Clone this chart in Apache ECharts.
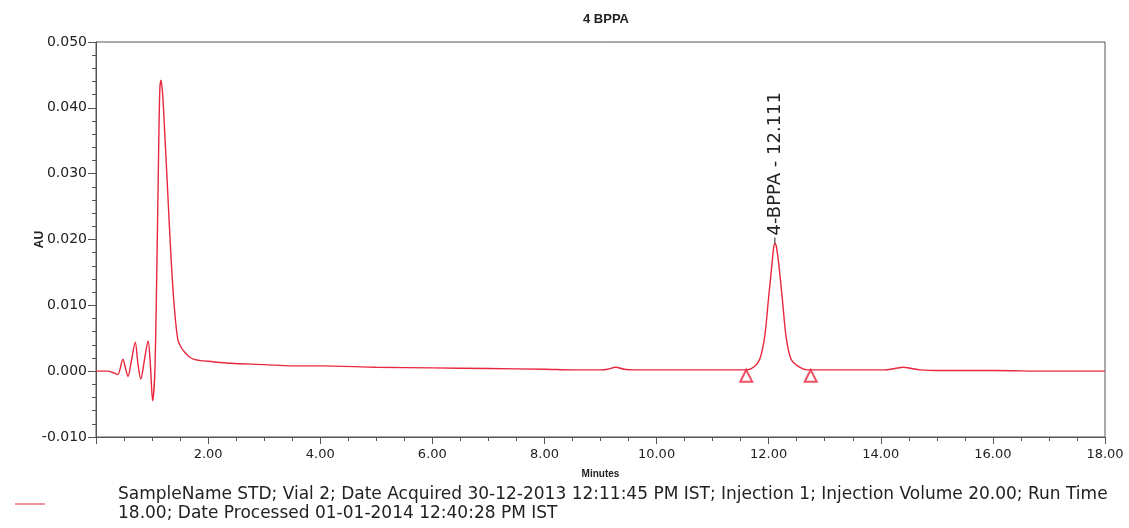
<!DOCTYPE html>
<html>
<head>
<meta charset="utf-8">
<script src="https://cdn.jsdelivr.net/npm/echarts@6/dist/echarts.min.js"></script>
<style>
html,body{margin:0;padding:0;background:#fff;}
#chart{width:1129px;height:528px;}
</style>
</head>
<body>
<div id="chart"></div>
<script>
// ---- data ----
const chartTitle = '4 BPPA';
const seriesName = 'SampleName STD; Vial 2; Date Acquired 30-12-2013 12:11:45 PM IST; Injection 1; Injection Volume 20.00; Run Time 18.00; Date Processed 01-01-2014 12:40:28 PM IST';
const legendLine1 = 'SampleName STD; Vial 2; Date Acquired 30-12-2013 12:11:45 PM IST; Injection 1; Injection Volume 20.00; Run Time';
const legendLine2 = '18.00; Date Processed 01-01-2014 12:40:28 PM IST';
const timeMin = [0, 0.2, 0.33, 0.39, 0.48, 0.53, 0.57, 0.63, 0.70, 0.75, 0.80, 0.86, 0.93, 0.97, 1.01, 1.05, 1.09, 1.12, 1.14, 1.16, 1.19, 1.22, 1.28, 1.34, 1.40, 1.46, 1.52, 1.58, 1.66, 1.75, 1.87, 2.0, 2.4, 3.0, 3.5, 4.0, 5.0, 6.0, 7.0, 8.0, 8.5, 9.0, 9.13, 9.27, 9.42, 9.6, 10.0, 11.0, 11.61, 11.73, 11.84, 11.93, 11.99, 12.05, 12.09, 12.111, 12.14, 12.19, 12.25, 12.31, 12.40, 12.55, 12.70, 13.0, 13.5, 14.06, 14.25, 14.40, 14.55, 14.70, 15.0, 16.0, 17.0, 18.0];
const absorbance = [0.0000, 0.0000, -0.0003, -0.0005, 0.0018, 0.0003, -0.0008, 0.0015, 0.0044, 0.0010, -0.0012, 0.0015, 0.0046, 0.0010, -0.0045, 0.0000, 0.0180, 0.0350, 0.0430, 0.0442, 0.0420, 0.0372, 0.0271, 0.0170, 0.0094, 0.0048, 0.0036, 0.0029, 0.0022, 0.0018, 0.0016, 0.0015, 0.0012, 0.0010, 0.0008, 0.0008, 0.0006, 0.0005, 0.0004, 0.0003, 0.0002, 0.0002, 0.0003, 0.0006, 0.0003, 0.0002, 0.0002, 0.0002, 0.0002, 0.0006, 0.0018, 0.0053, 0.0104, 0.0155, 0.0188, 0.0194, 0.0188, 0.0155, 0.0104, 0.0053, 0.0018, 0.0006, 0.0002, 0.0002, 0.0002, 0.0002, 0.0004, 0.0006, 0.0004, 0.0002, 0.0001, 0.0001, 0.0000, 0.0000];
const peakName = '4-BPPA';
const peakTime = 12.111;
const peakHeight = 0.0194;
const peakStartEnd = [[11.60, 0.0002], [12.75, 0.0002]];
const xTicks = { min: 0, max: 18, interval: 2 };
const yTicks = { min: -0.01, max: 0.05, interval: 0.01 };
const xName = 'Minutes';
const yName = 'AU';

// ---- chart ----
const lineColor = '#e8263c';
const axisColor = '#555';
const wideFont = 'DejaVu Sans, Verdana, sans-serif';
const chart = echarts.init(document.getElementById('chart'));
const pts = timeMin.map((t, i) => [t, absorbance[i]]);
chart.setOption({
  animation: false,
  backgroundColor: '#fff',
  title: {
    text: chartTitle, left: 601, top: 8, textAlign: 'center',
    textStyle: { fontFamily: 'Liberation Sans, Arial', fontSize: 13, fontWeight: 'bold', color: '#222' }
  },
  grid: { left: 96, right: 24, top: 42, bottom: 91, show: true, borderColor: axisColor, borderWidth: 1, backgroundColor: '#fff' },
  legend: {
    left: 10, top: 480, itemWidth: 30, itemHeight: 10, icon: 'path://M0,5H30V6H0Z',
    data: [seriesName],
    formatter: () => legendLine1 + '\n' + legendLine2,
    textStyle: { fontFamily: wideFont, fontSize: 17, color: '#222', lineHeight: 19, padding: [0, 0, 0, 68] }
  },
  xAxis: {
    type: 'value', min: xTicks.min, max: xTicks.max, interval: xTicks.interval,
    name: xName, nameLocation: 'middle', nameGap: 32, nameMoveOverlap: false,
    nameTextStyle: { fontFamily: 'Liberation Sans, Arial', fontSize: 10, fontWeight: 'bold', color: '#222' },
    axisLine: { show: true, onZero: false, lineStyle: { color: axisColor } },
    axisTick: { show: true, length: 7, lineStyle: { color: axisColor } },
    minorTick: { show: true, splitNumber: 4, length: 4, lineStyle: { color: axisColor } },
    splitLine: { show: false },
    axisLabel: { showMinLabel: false, formatter: v => v.toFixed(2), fontFamily: wideFont, fontSize: 13, color: '#222', margin: 11 }
  },
  yAxis: {
    type: 'value', min: yTicks.min, max: yTicks.max, interval: yTicks.interval,
    name: yName, nameLocation: 'middle', nameGap: 50, nameRotate: 90, nameMoveOverlap: false,
    nameTextStyle: { fontFamily: 'Liberation Sans, Arial', fontSize: 12, fontWeight: 'bold', color: '#222' },
    axisLine: { show: true, onZero: false, lineStyle: { color: axisColor } },
    axisTick: { show: true, length: 8, lineStyle: { color: axisColor } },
    minorTick: { show: true, splitNumber: 5, length: 4, lineStyle: { color: axisColor } },
    splitLine: { show: false },
    axisLabel: { formatter: v => v.toFixed(3), fontFamily: wideFont, fontSize: 14, color: '#222', margin: 9 }
  },
  series: [
    {
      name: seriesName, type: 'line', data: pts, showSymbol: false, smooth: 0.3,
      lineStyle: { color: lineColor, width: 1.4 }, itemStyle: { color: lineColor },
      markPoint: {
        symbol: 'rect', symbolSize: [1, 6], symbolOffset: [0, -3],
        itemStyle: { color: '#222' },
        data: [{ coord: [peakTime, peakHeight], value: peakName + ' - ' + peakTime.toFixed(3) }],
        label: {
          show: true, position: 'top', distance: 2, rotate: 90, align: 'left', verticalAlign: 'middle',
          formatter: p => p.value,
          fontFamily: wideFont, fontSize: 18, color: '#222'
        }
      }
    },
    {
      name: 'baseline marks', type: 'scatter', data: peakStartEnd,
      symbol: 'emptyTriangle', symbolSize: [12, 12], symbolOffset: [0, 6],
      itemStyle: { color: lineColor, borderColor: lineColor, borderWidth: 1 }, z: 3
    }
  ]
});
</script>
</body>
</html>
